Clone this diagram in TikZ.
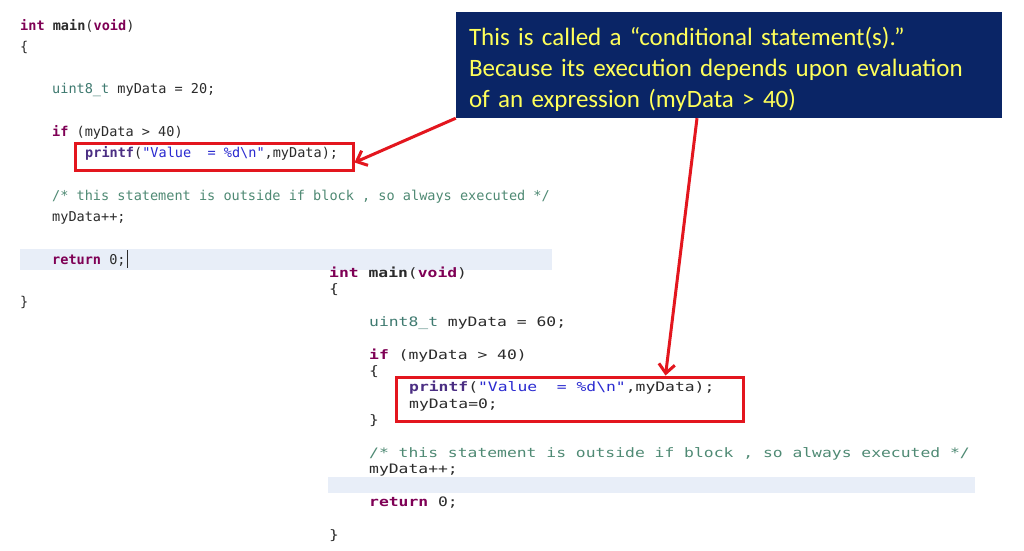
\documentclass[tikz,border=0pt]{standalone}
\usepackage{fontspec}
\setmainfont{Carlito}
\newfontfamily\codeL{DejaVu Sans Mono}
\newfontfamily\codeR[FakeStretch=1.258]{DejaVu Sans Mono}
\usetikzlibrary{arrows.meta}
\definecolor{kw}{HTML}{7F0055}
\definecolor{fn}{HTML}{4B2E83}
\definecolor{str}{HTML}{2A2AD0}
\definecolor{cmt}{HTML}{4F8A74}
\definecolor{typ}{HTML}{3F7A70}
\definecolor{plain}{HTML}{2B2B2B}
\definecolor{band}{HTML}{E8EEF8}
\definecolor{navy}{HTML}{0A2566}
\definecolor{note}{HTML}{FFFF5A}
\definecolor{mark}{HTML}{E3161E}
\newcommand{\kwd}[1]{\textcolor{kw}{\bfseries #1}}
\newcommand{\fnc}[1]{\textcolor{fn}{\bfseries #1}}
\newcommand{\strg}[1]{\textcolor{str}{#1}}
\newcommand{\cmnt}[1]{\textcolor{cmt}{#1}}
\newcommand{\typ}[1]{\textcolor{typ}{#1}}
\tikzset{
	lineL/.style={anchor=base west, inner sep=0pt, text=plain, font=\codeL\fontsize{13.55}{16}\selectfont},
	lineR/.style={anchor=base west, inner sep=0pt, text=plain, font=\codeR\fontsize{13}{16}\selectfont},
	redbox/.style={draw=mark, line width=3pt, inner sep=0pt},
	callout/.style={fill=navy, text=note, font=\fontsize{25}{31}\selectfont, align=left, text width=520pt, inner xsep=13pt, minimum height=106pt},
	edge/.style={draw=mark, line width=3pt, -{Straight Barb[length=9pt,width=16pt]}}
}
\begin{document}
\begin{tikzpicture}[x=1pt, y=-1pt]
\useasboundingbox[fill=white] (0,0) rectangle (1024,550);
% current line bands
\fill[band] (20,249) rectangle (552,270);
\fill[band] (328,477) rectangle (975,493);

% first listing
\node[lineL] (l0) at (20,30) {\kwd{int} {\bfseries main}(\kwd{void})};
\node[lineL] (l1) at (20,51.3) {\{};
\node[lineL] (l3) at (52,93.9) {\typ{uint8\_t} myData = 20;};
\node[lineL] (l5) at (52,136.5) {\kwd{if} (myData > 40)};
\node[lineL] (l6) at (85,157.8) {\fnc{printf}(\strg{"Value\ \ = \%d\textbackslash n"},myData);};
\node[lineL] (l8) at (52,200.4) {\cmnt{/* this statement is outside if block , so always executed */}};
\node[lineL] (l9) at (52,221.7) {myData++;};
\node[lineL] (l11) at (52,264.3) {\kwd{return} 0;};
\node[lineL] (l13) at (20,306.9) {\}};
\draw[plain, line width=1pt] (127,250) -- (127,268);

% second listing
\node[lineR] (r0) at (329,277) {\kwd{int} {\bfseries main}(\kwd{void})};
\node[lineR] (r1) at (329,293.4) {\{};
\node[lineR] (r3) at (369,326.2) {\typ{uint8\_t} myData = 60;};
\node[lineR] (r5) at (369,359) {\kwd{if} (myData > 40)};
\node[lineR] (r6) at (369,375.4) {\{};
\node[lineR] (r7) at (409,391.8) {\fnc{printf}(\strg{"Value\ \ = \%d\textbackslash n"},myData);};
\node[lineR] (r8) at (409,408.2) {myData=0;};
\node[lineR] (r9) at (369,424.6) {\}};
\node[lineR] (r11) at (369,457.4) {\cmnt{/* this statement is outside if block , so always executed */}};
\node[lineR] (r12) at (369,473.8) {myData++;};
\node[lineR] (r14) at (369,506.6) {\kwd{return} 0;};
\node[lineR] (r16) at (329,539.4) {\}};

% marked statements
\node[redbox, minimum width=278pt, minimum height=27pt] (boxL) at (214,156.5) {};
\node[redbox, minimum width=347pt, minimum height=44pt] (boxR) at (569.5,399) {};

\node[callout] (note) at (729,65) {\rule{0pt}{27pt}This is called a “conditional statement(s).”\\Because its execution depends upon evaluation\\of an expression (myData > 40)};

\draw[edge] (note.south west) -- ([yshift=-6pt]boxL.east);
\draw[edge] ([xshift=-32pt]note.south) -- ([xshift=96pt]boxR.north);
\end{tikzpicture}
\end{document}
